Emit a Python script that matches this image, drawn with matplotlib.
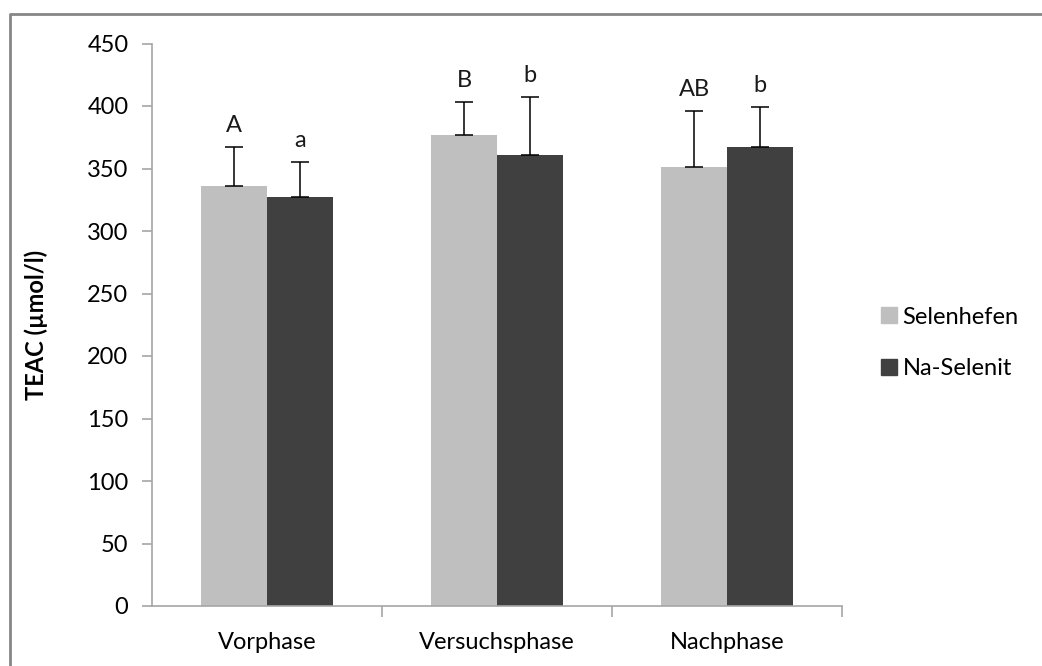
import matplotlib.pyplot as plt
import numpy as np
from matplotlib.lines import Line2D

phases = ["Vorphase", "Versuchsphase", "Nachphase"]
series = ["Selenhefen", "Na-Selenit"]
selenhefen = [336, 377, 351]
selenhefen_err = [31, 26, 45]
na_selenit = [327, 361, 367]
na_selenit_err = [28, 46, 32]
letters_selenhefen = ["A", "B", "AB"]
letters_na_selenit = ["a", "b", "b"]

plt.rcParams["font.family"] = ["Lato", "DejaVu Sans"]
FS = 17

fig = plt.figure(figsize=(10.42, 6.66), dpi=100)
ax = fig.add_axes([152 / 1042, 1 - 606 / 666, (842 - 152) / 1042, (606 - 43.5) / 666])

axis_grey = "#a6a6a6"
width = 0.287
x = np.arange(len(phases))
colors = ["#bfbfbf", "#404040"]
for i, (vals, errs, letters) in enumerate(
    [(selenhefen, selenhefen_err, letters_selenhefen), (na_selenit, na_selenit_err, letters_na_selenit)]
):
    pos = x + (i - 0.5) * width
    ax.bar(pos, vals, width=width, color=colors[i], label=series[i], zorder=2)
    ax.errorbar(pos, vals, yerr=[np.zeros(len(errs)), errs], fmt="none", ecolor="black",
                elinewidth=1.1, capsize=6.5, capthick=1.1, zorder=3)
    for p, v, e, t in zip(pos, vals, errs, letters):
        ax.text(p, v + e + 12, t, ha="center", va="baseline", fontsize=FS, color="#1a1a1a")

ax.set_xlim(-0.5, 2.5)
ax.set_ylim(0, 450)
ax.set_yticks(np.arange(0, 451, 50))
ax.set_xticks(x)
ax.set_xticklabels(phases)
ax.set_xticks([0.5, 1.5, 2.5], minor=True)
ax.tick_params(axis="x", which="major", length=0, pad=19, labelsize=FS)
ax.tick_params(axis="x", which="minor", length=8, color=axis_grey, width=1.2)
ax.tick_params(axis="y", length=7, color=axis_grey, width=1.2, pad=10, labelsize=FS)
for side in ["top", "right"]:
    ax.spines[side].set_visible(False)
for side in ["left", "bottom"]:
    ax.spines[side].set_color(axis_grey)
    ax.spines[side].set_linewidth(1.2)
ax.set_ylabel("TEAC (µmol/l)", fontsize=FS, fontweight="bold", labelpad=28)

handles = [Line2D([], [], marker="s", linestyle="none", markersize=11, color=c) for c in colors]
fig.legend(handles, series, loc="center left", bbox_to_anchor=(0.821, 0.485), frameon=False,
           fontsize=FS, handletextpad=0.1, labelspacing=1.3, handlelength=1.0)

# outer chart frame (only top and left edges are visible in the crop)
fig.add_artist(Line2D([10 / 1042, 10 / 1042, 1.0], [0, 1 - 14 / 666, 1 - 14 / 666],
                      transform=fig.transFigure, color="#868686", linewidth=2))

fig.savefig("out.png", dpi=100)
